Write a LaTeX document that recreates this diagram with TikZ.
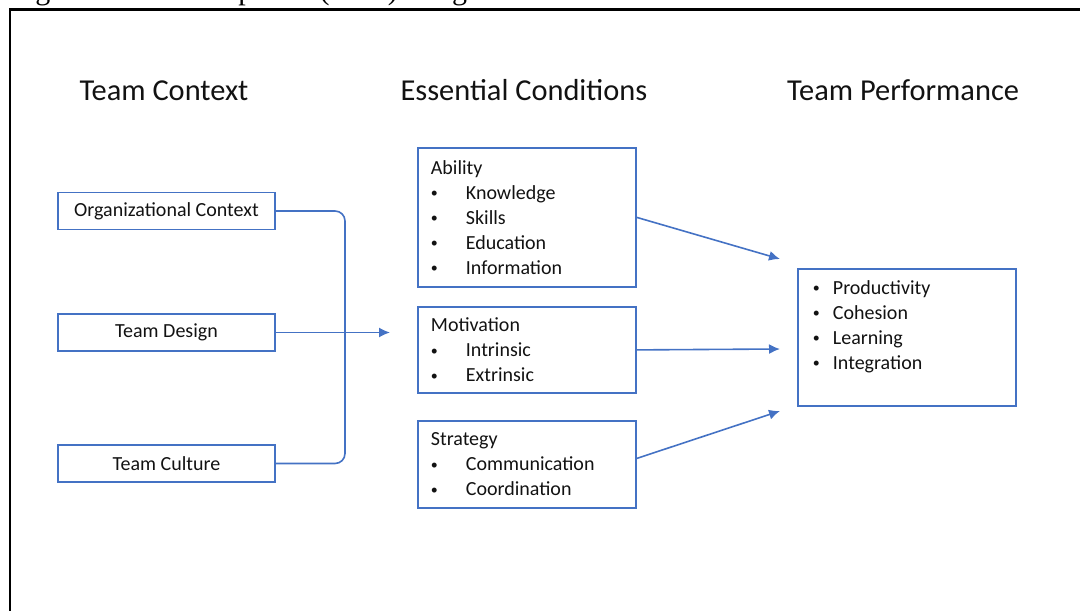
\documentclass[tikz,border=0pt]{standalone}
\usepackage{fontspec}
\setmainfont{Carlito}
\newfontfamily\captionfont{Liberation Serif}
\usetikzlibrary{arrows.meta,calc}
\definecolor{BoxClr}{rgb}{0.267,0.447,0.769}
\definecolor{TextClr}{rgb}{0.07,0.07,0.07}

\newcommand{\Bul}[2][17.5pt]{\makebox[#1][l]{\raisebox{0.8pt}{\fontsize{7}{7}\selectfont\textbullet}}#2}

\begin{document}
\begin{tikzpicture}[x=0.5pt,y=-0.5pt,
  head/.style={anchor=base,text=TextClr,font=\fontsize{15.2}{18}\selectfont},
  ctxbox/.style={draw=BoxClr,line width=0.9pt,minimum width=108.5pt,minimum height=18.5pt,
    inner sep=0pt,text=TextClr,font=\fontsize{10}{12.5}\selectfont},
  listbox/.style={draw=BoxClr,line width=0.9pt,anchor=north west,align=left,text width=96pt,
    inner xsep=6.5pt,inner ysep=0pt,text=TextClr,font=\fontsize{10}{12.5}\selectfont},
  link/.style={draw=BoxClr,line width=0.8pt},
  arr/.style={link,-{Latex[length=5.5pt,width=5pt]}}]
\useasboundingbox (0,0) rectangle (1080,610);

\node[anchor=base west,inner sep=0pt,font=\captionfont\fontsize{15}{18}\selectfont] (cap) at (10,0)
  {Figure 1.\hspace{24pt}Thompson's (NCS) Integrated Model of Teamwork};
\draw[line width=1.25pt] (10,640) -- (10,9.5) -- (1100,9.5);

\node[head] (hctx) at (164,101) {Team Context};
\node[head] (hcond) at (524,101) {Essential Conditions};
\node[head] (hperf) at (903,101) {Team Performance};

\node[ctxbox] (org) at (166.5,211) {Organizational Context};
\node[ctxbox] (design) at (166.5,332.5) {Team Design};
\node[ctxbox] (cult) at (166.5,463.5) {Team Culture};

\node[listbox,minimum height=69.5pt] (ability) at (417,147)
  {Ability\\ \Bul{Knowledge}\\ \Bul{Skills}\\ \Bul{Education}\\ \Bul{Information}};
\node[listbox,minimum height=43pt] (motiv) at (417,306)
  {Motivation\\ \Bul{Intrinsic}\\ \Bul{Extrinsic}};
\node[listbox,minimum height=43.5pt] (strat) at (417,420)
  {Strategy\\ \Bul{Communication}\\ \Bul{Coordination}};

\node[listbox,text width=94pt,inner xsep=7.5pt,minimum height=68.5pt] (perf) at (797,268)
  {\Bul[10pt]{Productivity}\\ \Bul[10pt]{Cohesion}\\ \Bul[10pt]{Learning}\\ \Bul[10pt]{Integration}\\ \mbox{}};

\coordinate (fork) at (345,332.5);
\coordinate (ecIn) at (390,332.5);
\coordinate (tpA) at (780,259);
\coordinate (tpM) at (780,349);
\coordinate (tpS) at (780,411);

\draw[link,rounded corners=5pt] (org.east) -| (fork) |- (cult.east);
\draw[arr] (design.east) -- (ecIn);

\draw[arr] (ability.east) -- (tpA);
\draw[arr] (motiv.east) -- (tpM);
\draw[arr] ($(strat.east)+(0,-6)$) -- (tpS);

\end{tikzpicture}
\end{document}
